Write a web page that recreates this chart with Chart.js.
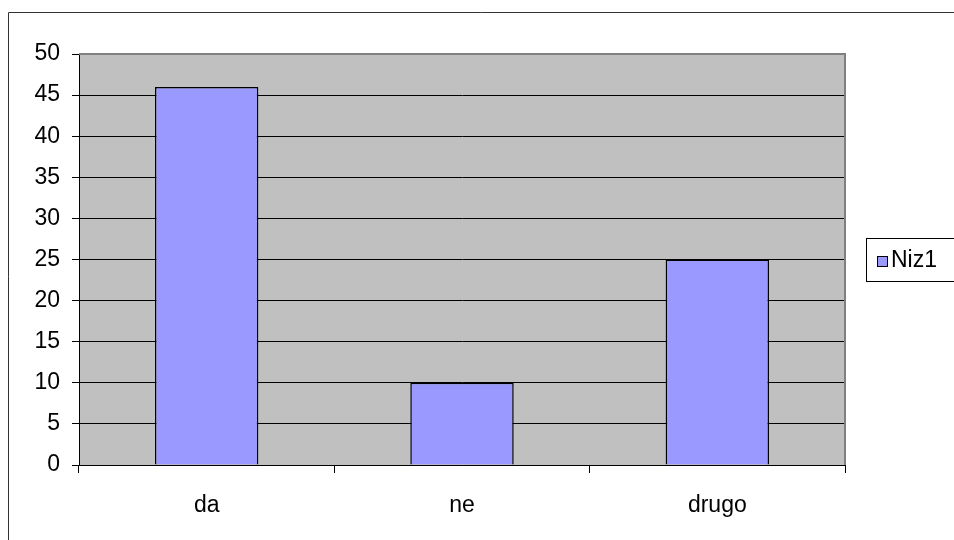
<!DOCTYPE html>
<html>
<head>
<meta charset="utf-8">
<script src="https://cdn.jsdelivr.net/npm/chart.js@4"></script>
<style>
  html, body { margin: 0; padding: 0; background: #fff; }
  #wrap { width: 954px; height: 540px; }
</style>
</head>
<body>
<div id="wrap"><canvas id="chart"></canvas></div>
<script>
// data
const categories = ['da', 'ne', 'drugo'];
const seriesName = 'Niz1';
const seriesValues = [46, 10, 25];
const yTicks = [0, 5, 10, 15, 20, 25, 30, 35, 40, 45, 50];

const FONT = '"Liberation Sans", Arial, sans-serif';
const FSIZE = 23;

// outer frame, grey plot background and plot border
const framePlugin = {
    id: 'frame',
    beforeDraw(chart) {
        const ctx = chart.ctx;
        const a = chart.chartArea;
        ctx.save();
        ctx.strokeStyle = '#333';
        ctx.lineWidth = 1;
        ctx.beginPath();
        ctx.moveTo(8.5, 540);
        ctx.lineTo(8.5, 12.5);
        ctx.lineTo(954, 12.5);
        ctx.stroke();
        ctx.fillStyle = '#C0C0C0';
        ctx.fillRect(a.left, a.top, a.right - a.left, a.bottom - a.top);
        ctx.restore();
    },
    afterDatasetsDraw(chart) {
        const ctx = chart.ctx;
        const a = chart.chartArea;
        ctx.save();
        ctx.strokeStyle = '#808080';
        ctx.lineWidth = 2;
        ctx.beginPath();
        ctx.moveTo(a.left, a.top);
        ctx.lineTo(a.right, a.top);
        ctx.lineTo(a.right, a.bottom);
        ctx.stroke();
        ctx.restore();
    }
};

// Excel-like boxed legend on the right
const legendBox = {
    id: 'legendBox',
    afterDraw(chart) {
        const ctx = chart.ctx;
        const ds = chart.data.datasets[0];
        ctx.save();
        ctx.fillStyle = '#fff';
        ctx.strokeStyle = '#000';
        ctx.lineWidth = 1;
        ctx.fillRect(866.5, 238.5, 100, 43);
        ctx.strokeRect(866.5, 238.5, 100, 43);
        ctx.fillStyle = ds.backgroundColor;
        ctx.fillRect(877.5, 256.5, 10, 10);
        ctx.strokeRect(877.5, 256.5, 10, 10);
        ctx.fillStyle = '#000';
        ctx.font = FSIZE + 'px ' + FONT;
        ctx.textBaseline = 'middle';
        ctx.fillText(ds.label, 891, 261);
        ctx.restore();
    }
};

new Chart(document.getElementById('chart'), {
    type: 'bar',
    data: {
        labels: categories,
        datasets: [{
            label: seriesName,
            data: seriesValues,
            backgroundColor: '#9999FF',
            borderColor: '#000',
            borderWidth: 1.5,
            barPercentage: 0.405,
            categoryPercentage: 1
        }]
    },
    options: {
        responsive: true,
        maintainAspectRatio: false,
        animation: false,
        layout: { padding: { left: 0, top: 54, right: 109, bottom: 0 } },
        plugins: {
            legend: { display: false },
            tooltip: { enabled: false }
        },
        scales: {
            x: {
                afterFit(s) { s.height = 75; },
                grid: {
                    offset: true,
                    drawOnChartArea: false,
                    color: '#000',
                    tickLength: 8
                },
                border: { color: '#000', width: 1 },
                ticks: {
                    color: '#000',
                    padding: 19,
                    font: { family: FONT, size: FSIZE }
                }
            },
            y: {
                min: 0,
                max: 50,
                afterFit(s) { s.width = 79; },
                afterBuildTicks(s) { s.ticks = yTicks.map(v => ({ value: v })); },
                grid: {
                    color: '#000',
                    tickLength: 7
                },
                border: { color: '#000', width: 1 },
                ticks: {
                    color: '#000',
                    padding: 12,
                    font: { family: FONT, size: FSIZE }
                }
            }
        }
    },
    plugins: [framePlugin, legendBox]
});
</script>
</body>
</html>
